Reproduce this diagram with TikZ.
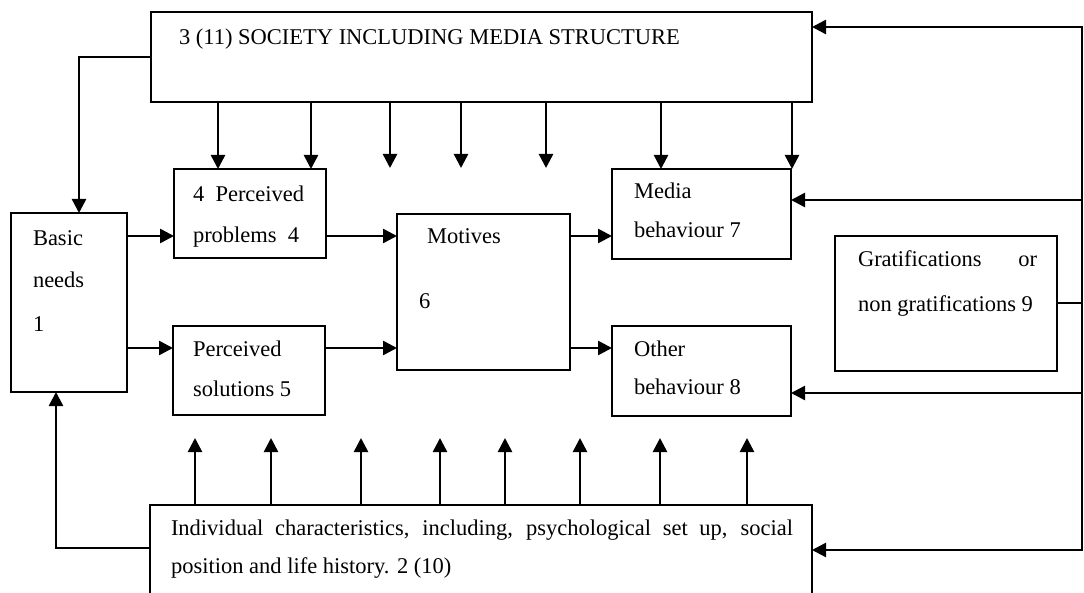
\documentclass[tikz,border=0pt]{standalone}
\usepackage{fontspec}
\setmainfont{Liberation Serif}
\usetikzlibrary{arrows.meta,calc}
\begin{document}
\begin{tikzpicture}[x=1pt,y=-1pt,
  box/.style={draw, line width=2.1pt, anchor=north west, inner sep=0pt, outer sep=0pt},
  lbl/.style={anchor=base west, inner sep=0pt, outer sep=0pt, font=\fontsize{22.5}{27}\selectfont},
  arr/.style={line width=2.5pt, -{Triangle[length=14pt,width=14pt]}},
  ln/.style={line width=2.5pt}]
\useasboundingbox (0,0) rectangle (1084,593);
\clip (0,0) rectangle (1084,593);
\fill[white] (0,0) rectangle (1084,593);

% boxes
\node[box, minimum width=661pt, minimum height=90pt]  (soc)   at (151,12)  {};
\node[box, minimum width=116pt, minimum height=179pt] (basic) at (11,213)  {};
\node[box, minimum width=152pt, minimum height=89pt]  (pp)    at (174,169) {};
\node[box, minimum width=152pt, minimum height=89pt]  (ps)    at (173,326) {};
\node[box, minimum width=173pt, minimum height=156pt] (mot)   at (397,214) {};
\node[box, minimum width=179pt, minimum height=90pt]  (media) at (612,169) {};
\node[box, minimum width=179pt, minimum height=90pt]  (other) at (612,326) {};
\node[box, minimum width=222pt, minimum height=135pt] (grat)  at (835,236) {};
\node[box, minimum width=662pt, minimum height=100pt] (ind)   at (150,505) {};

% texts
\node[lbl] (tsoc) at (179,45) {3 (11) SOCIETY INCLUDING MEDIA STRUCTURE};
\node[lbl] (tb1) at (33,246) {Basic};
\node[lbl] (tb2) at (33,288) {needs};
\node[lbl] (tb3) at (33,332) {1};
\node[lbl] (tp1) at (193,202) {4~~Perceived};
\node[lbl] (tp2) at (193,243) {problems~~4};
\node[lbl] (ts1) at (193,356) {Perceived};
\node[lbl] (ts2) at (193,396) {solutions 5};
\node[lbl] (tm1) at (427,244) {Motives};
\node[lbl] (tm2) at (419,309) {6};
\node[lbl] (tme1) at (634,199) {Media};
\node[lbl] (tme2) at (634,238) {behaviour 7};
\node[lbl] (to1) at (634,357) {Other};
\node[lbl] (to2) at (634,395) {behaviour 8};
\node[lbl] (tg1) at (858,267) {\makebox[179pt][s]{Gratifications or}};
\node[lbl] (tg2) at (858,312) {non gratifications 9};
\node[lbl] (ti1) at (171,535) {\makebox[622pt][s]{Individual characteristics, including, psychological set up, social}};
\node[lbl] (ti2) at (171,573) {position and life history. 2 (10)};

% horizontal flows
\coordinate (r1) at (0,236);
\coordinate (r2) at (0,348);
\draw[arr] (basic.east |- r1) -- (pp.west |- r1);
\draw[arr] (pp.east |- r1) -- (mot.west |- r1);
\draw[arr] (mot.east |- r1) -- (media.west |- r1);
\draw[arr] (basic.east |- r2) -- (ps.west |- r2);
\draw[arr] (ps.east |- r2) -- (mot.west |- r2);
\draw[arr] (mot.east |- r2) -- (other.west |- r2);

% arrows down from society
\foreach \x in {218,311}{
  \coordinate (dc) at (\x,0);
  \draw[arr] (soc.south -| dc) -- (pp.north -| dc);
}
\foreach \x in {390,461,546}{
  \coordinate (de) at (\x,168);
  \draw[arr] (soc.south -| de) -- (de);
}
\foreach \x in {661,792}{
  \coordinate (dm) at (\x,0);
  \draw[arr] (soc.south -| dm) -- (media.north -| dm);
}

% arrows up from individual characteristics
\foreach \x in {195,271,361,440,505,580,660,747}{
  \coordinate (ue) at (\x,438);
  \draw[arr] (ind.north -| ue) -- (ue);
}

% left loops
\coordinate (kL) at (79,0);
\draw[arr] (soc.west) -| (basic.north -| kL);
\coordinate (kB) at (56,0);
\coordinate (rb) at (0,548);
\draw[arr] (ind.west |- rb) -| (basic.south -| kB);

% right feedback
\coordinate (fT) at (1082,27);
\coordinate (fM) at (1082,200);
\coordinate (fO) at (1082,393);
\coordinate (fB) at (1082,550);
\draw[line width=2pt] (grat.east) -- (grat.east -| fT);
\draw[ln, line cap=rect] (fT) -- (fB);
\draw[arr] (fT) -- (soc.east |- fT);
\draw[arr] (fM) -- (media.east |- fM);
\draw[arr] (fO) -- (other.east |- fO);
\draw[arr] (fB) -- (ind.east |- fB);
\end{tikzpicture}
\end{document}
